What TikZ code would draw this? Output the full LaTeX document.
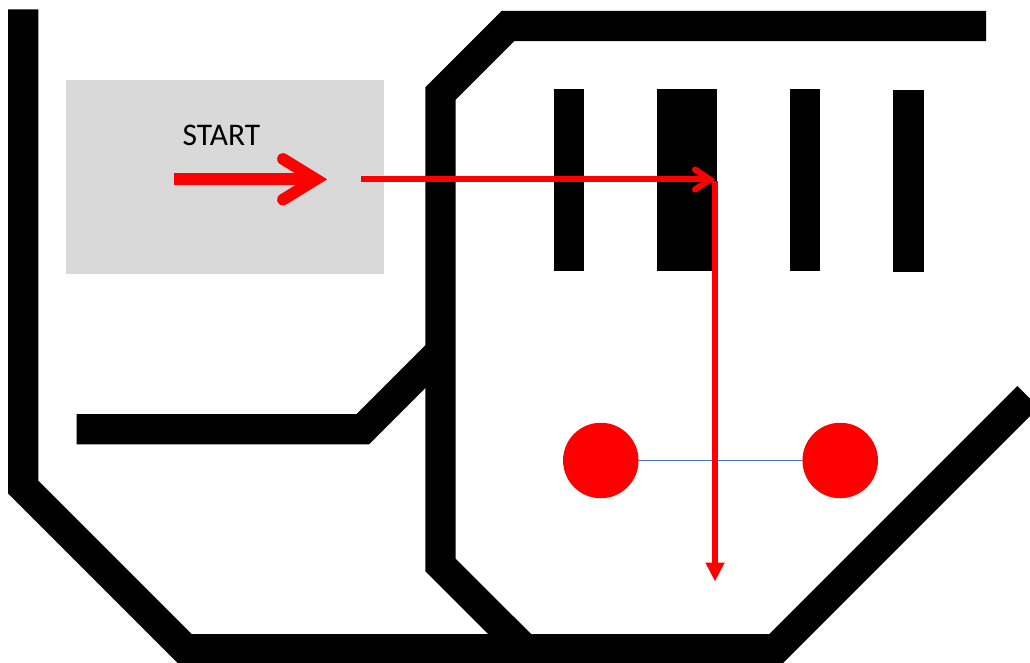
\documentclass[tikz,border=0pt]{standalone}
\usepackage{fontspec}
\setmainfont{Carlito}
\usetikzlibrary{arrows.meta}
\definecolor{zonegray}{HTML}{D9D9D9}
\definecolor{pathred}{HTML}{FF0000}
\definecolor{linkblue}{HTML}{4472C4}
\begin{document}
\begin{tikzpicture}[x=1pt,y=-1pt,
  wall/.style={draw=black, line width=30.3pt, line join=miter, line cap=butt},
  post/.style={fill=black},
  route/.style={draw=pathred, line width=6pt},
  bigroute/.style={draw=pathred, line width=11.7pt},
  dot/.style={circle, fill=pathred, minimum size=75.5pt, inner sep=0pt, outer sep=0pt},
  label/.style={anchor=base west, inner sep=0pt, font=\fontsize{31.5}{36}\selectfont}]
\useasboundingbox (0,0) rectangle (1030,663);
\clip (0,0) rectangle (1030,663);

% start zone
\fill[zonegray] (66,80) rectangle (384,273.7);
\node[label] (start) at (182.5,145.7) {START};

% outer wall
\draw[wall] (23.2,9.3) -- (23.2,487.1) -- (185.4,649.3) -- (775.4,649.3) -- (1028,396.7);
% inner wall
\draw[wall] (986,26) -- (508,26) -- (440.5,93.5) -- (440.5,565) -- (524.9,649.3);
% ledge
\draw[wall] (76.7,429.2) -- (362.8,429.2) -- (440.5,351.5);

% posts
\fill[post] (554,89) rectangle (584,271);
\fill[post] (657,89) rectangle (717,271);
\fill[post] (790,89) rectangle (820,271);
\fill[post] (893,90) rectangle (923.5,272);

% start arrow
\coordinate (s0) at (174,179.3);
\coordinate (s1) at (316,179.3);
\draw[bigroute] (s0) -- ([xshift=-4pt]s1);
\draw[bigroute, line cap=round, line join=miter]
  ([shift={(-33,-20.3)}]s1) -- (s1) -- ([shift={(-33,20.3)}]s1);

% targets
\node[dot] (lc) at (600.8,460.5) {};
\node[dot] (rc) at (840.2,460.5) {};
\draw[linkblue, line width=1.8pt] (lc) -- (rc);

% route
\coordinate (go) at (361,179.5);
\coordinate (turn) at (715,179.5);
\coordinate (stop) at (715,581.5);
\draw[route] (go) -- ([xshift=-5pt]turn);
\draw[route, line cap=round, line join=miter]
  ([shift={(-20,-10)}]turn) -- ([xshift=-5pt]turn) -- ([shift={(-20,10)}]turn);
\draw[route, -{Triangle[width=18pt,length=19pt]}] ([yshift=-2pt]turn) -- (stop);
\end{tikzpicture}
\end{document}
